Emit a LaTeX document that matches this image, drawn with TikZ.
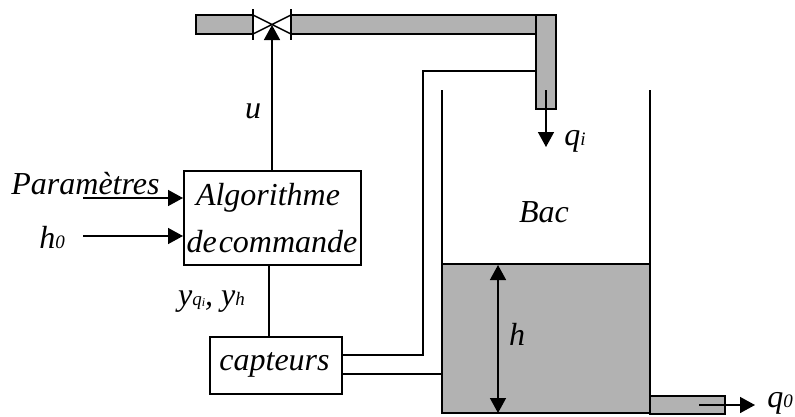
\documentclass[tikz,border=0pt]{standalone}
\usepackage{fontspec}
\setmainfont{Liberation Serif}
\usetikzlibrary{arrows.meta}
\definecolor{fluid}{gray}{0.70}
\newcommand{\bigit}{\fontsize{32}{34}\selectfont\itshape}
\newcommand{\sbs}[1]{{\fontsize{19}{20}\selectfont\itshape #1}}
\tikzset{
  ln/.style={line width=1.5pt,line cap=butt,line join=miter},
  pipe/.style={ln,fill=fluid},
  block/.style={ln,draw,fill=white,inner sep=0pt,minimum width=#1,anchor=north west},
  lab/.style={inner sep=0pt,font=\bigit,anchor=base},
  arr/.style={ln,-{Triangle[length=15pt,width=16pt]}},
  arrs/.style={ln,{Triangle[length=15pt,width=16pt]}-{Triangle[length=15pt,width=16pt]}}
}
\begin{document}
\begin{tikzpicture}[x=1pt,y=-1pt]
\useasboundingbox (0,0) rectangle (795,416);
% pipes and fluid
\draw[pipe] (196,15) rectangle (253,34);
\draw[pipe] (291,15) rectangle (556,34);
\draw[pipe] (536,15) rectangle (556,109);
\draw[pipe] (442,264) rectangle (650,413);
\draw[pipe] (650,396) rectangle (725,414);
% tank walls
\coordinate (wlt) at (442,90);
\coordinate (wlb) at (442,264);
\coordinate (wrt) at (650,90);
\coordinate (wrb) at (650,264);
\draw[ln] (wlt) -- (wlb);
\draw[ln] (wrt) -- (wrb);
% valve
\coordinate (vc) at (272,25);
\coordinate (vlt) at (253,15);
\coordinate (vlb) at (253,34);
\coordinate (vrt) at (291,15);
\coordinate (vrb) at (291,34);
\coordinate (vl1) at (253,9);
\coordinate (vl2) at (253,40);
\coordinate (vr1) at (291,9);
\coordinate (vr2) at (291,40);
\draw[ln,fill=white] (vlt) -- (vrb) -- (vrt) -- (vlb) -- cycle;
\draw[ln] (vl1) -- (vl2);
\draw[ln] (vr1) -- (vr2);
% blocks
\node[block=177pt,minimum height=94pt] (alg) at (183,170) {};
\node[block=132pt,minimum height=57pt] (cap) at (209,336) {};
% texts in blocks
\node[lab] (t1) at (268,205) {Algorithme};
\node[lab] (t2) at (272,252) {de\hspace{2pt}commande};
\node[lab] (t3) at (274.5,370) {capteurs};
% connectors
\draw[arr] (alg.north -| vc) -- (vc);
\coordinate (jt) at (269,300);
\draw[ln] (jt |- alg.south) -- (jt |- cap.north);
\coordinate (ps) at (83,198);
\coordinate (hs) at (83,236);
\draw[arr] (ps) -- (ps -| alg.west);
\draw[arr] (hs) -- (hs -| alg.west);
\coordinate (s1) at (423,71);
\coordinate (s1e) at (536,71);
\coordinate (c1) at (341,355);
\coordinate (c2) at (341,374);
\coordinate (s2e) at (442,374);
\draw[ln] (c1) -| (s1) -- (s1e);
\draw[ln] (c2) -- (s2e);
\coordinate (qis) at (546,90);
\coordinate (qie) at (546,147);
\draw[arr] (qis) -- (qie);
\coordinate (ht) at (498,265);
\coordinate (hb) at (498,413);
\draw[arrs] (ht) -- (hb);
\coordinate (qos) at (699,405);
\coordinate (qoe) at (755,405);
\draw[arr] (qos) -- (qoe);
% labels
\node[lab] (lu) at (253,118) {u};
\node[lab] (lpa) at (85.5,194) {Paramètres};
\node[lab] (lh0) at (52,248) {h\sbs{0}};
\node[lab] (ly) at (211.5,305) {y\sbs{q\raisebox{-1pt}{\fontsize{12}{12}\selectfont i}}, y\sbs{h}};
\node[lab] (lqi) at (575,145) {q\sbs{i}};
\node[lab] (lbac) at (544,222) {Bac};
\node[lab] (lh) at (517,345) {h};
\node[lab] (lq0) at (780,407) {q\sbs{0}};
\end{tikzpicture}
\end{document}
